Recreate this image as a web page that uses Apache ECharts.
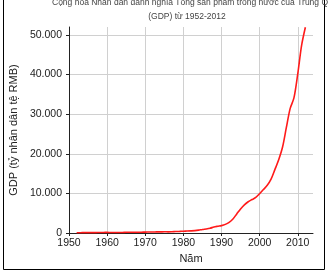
<!DOCTYPE html>
<html><head><meta charset="utf-8">
<script src="https://cdn.jsdelivr.net/npm/echarts@6/dist/echarts.min.js"></script>
<style>html,body{margin:0;padding:0;background:#fff}#c{width:328px;height:277px}</style>
</head><body><div id="c"></div>
<script>
var years = [1952,1953,1954,1955,1956,1957,1958,1959,1960,1961,1962,1963,1964,1965,1966,1967,1968,1969,1970,1971,1972,1973,1974,1975,1976,1977,1978,1979,1980,1981,1982,1983,1984,1985,1986,1987,1988,1989,1990,1991,1992,1993,1994,1995,1996,1997,1998,1999,2000,2001,2002,2003,2004,2005,2006,2007,2008,2009,2010,2011,2012];
var gdp = [68,82,86,91,103,107,131,144,146,122,115,123,145,172,187,177,172,194,225,243,252,272,279,300,294,320,365,406,455,489,532,596,721,902,1028,1206,1504,1699,1867,2178,2692,3533,4820,6079,7118,7897,8440,8968,9922,10966,12033,13582,15988,18494,21631,26581,31405,34090,40151,47310,51932];
var xTicks = [1950,1960,1970,1980,1990,2000,2010];
var yTicks = [0,10000,20000,30000,40000,50000];
var titleLine1 = 'Cộng hoà Nhân dân danh nghĩa Tổng sản phẩm trong nước của Trung Quốc';
var titleLine2 = '(GDP) từ 1952-2012';

var FONT = 'Liberation Sans';
var chart = echarts.init(document.getElementById('c'));
var pts = years.map(function(y,i){return [y,gdp[i]];});
function fmt(v){return String(v).replace(/\B(?=(\d{3})+(?!\d))/g,'.');}
chart.setOption({
  animation:false,
  graphic:[
    {type:'rect',shape:{x:3.5,y:-5,width:321,height:274.5},style:{fill:'none',stroke:'#000',lineWidth:1}},
    {type:'text',x:52,y:-2,style:{text:titleLine1,fontSize:8.5,fontFamily:FONT,fill:'#444',align:'left'}},
    {type:'text',x:187,y:12,style:{text:titleLine2,fontSize:8.5,fontFamily:FONT,fill:'#444',align:'center'}}
  ],
  grid:{left:61,right:15,top:27,bottom:44},
  xAxis:{type:'value',min:1950,max:2014,interval:10,
    name:'Năm',nameLocation:'middle',nameGap:20,
    nameTextStyle:{fontSize:11,color:'#222',fontFamily:FONT},
    axisLine:{lineStyle:{color:'#222',width:1}},
    axisTick:{show:true,length:3,lineStyle:{color:'#222'}},
    axisLabel:{fontSize:10.5,color:'#222',margin:5,fontFamily:FONT,showMaxLabel:false,
      formatter:function(v){return xTicks.indexOf(v)>=0?String(v):'';}},
    splitLine:{show:true,showMaxLine:false,lineStyle:{color:'#d0d0d0',width:1}}
  },
  yAxis:{type:'value',min:0,max:52000,interval:10000,
    name:'GDP (tỷ nhân dân tệ RMB)',nameLocation:'middle',nameGap:38,
    nameTextStyle:{fontSize:11,color:'#222',fontFamily:FONT},
    axisLine:{show:true,lineStyle:{color:'#222',width:1}},
    axisTick:{show:true,length:3,lineStyle:{color:'#222'}},
    axisLabel:{fontSize:10.5,color:'#222',margin:7,fontFamily:FONT,showMaxLabel:false,
      formatter:function(v){return yTicks.indexOf(v)>=0?fmt(v):'';}},
    splitLine:{show:true,showMaxLine:false,lineStyle:{color:'#d0d0d0',width:1}}
  },
  series:[{type:'line',data:pts,smooth:0.3,symbol:'none',
    lineStyle:{color:'#ff1a1a',width:1.6}}]
});
</script></body></html>
